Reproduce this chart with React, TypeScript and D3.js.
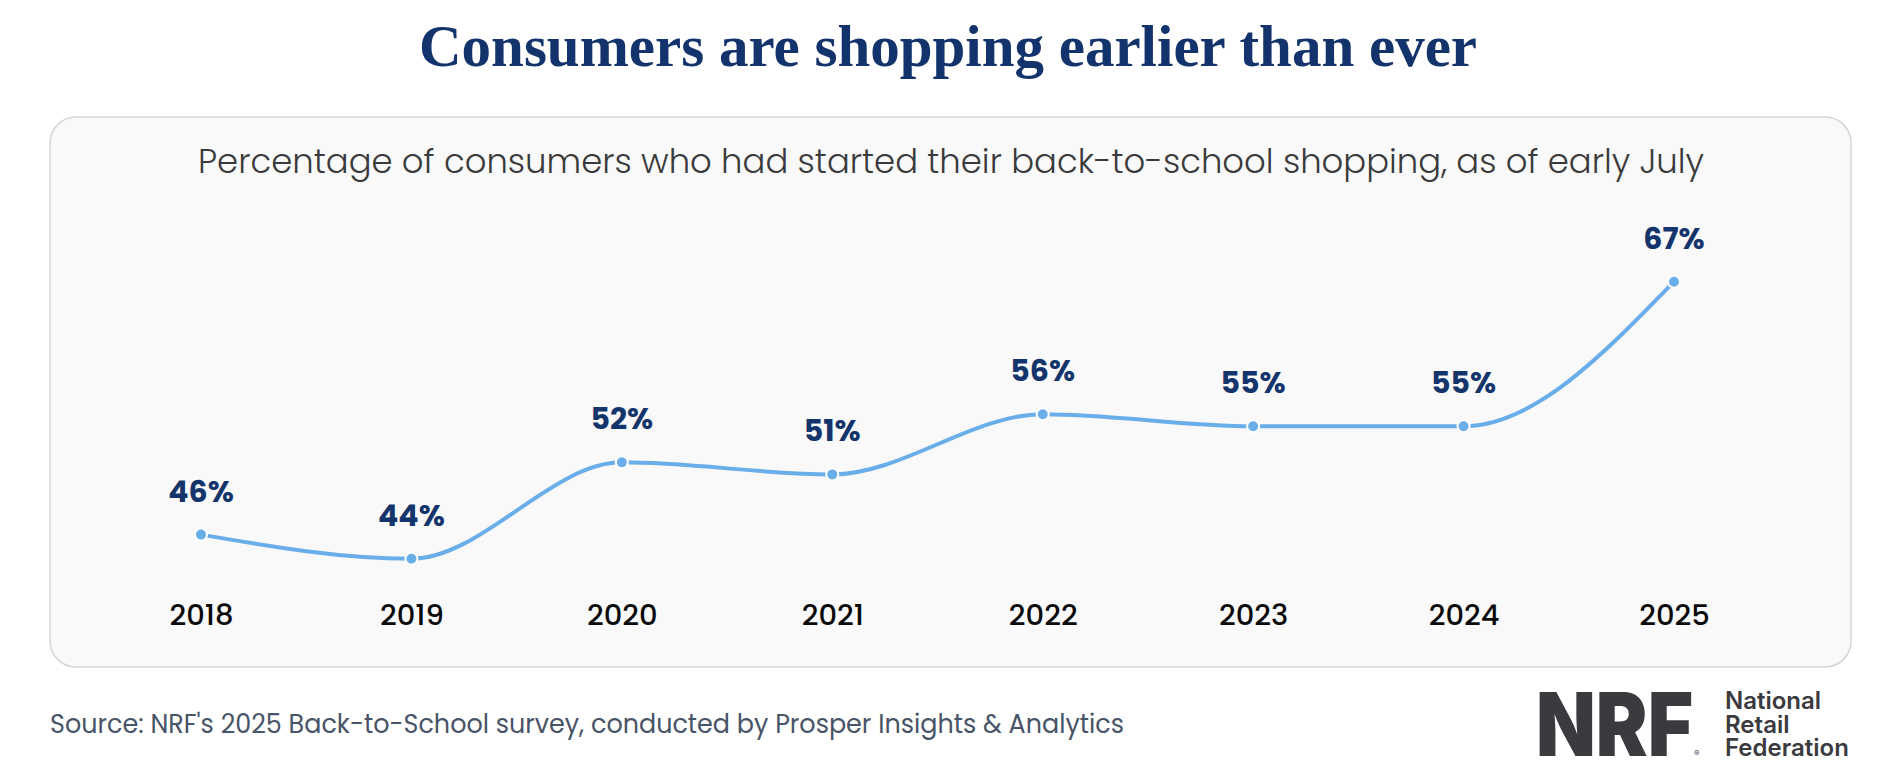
import React, { useEffect, useRef } from "react";
import * as d3 from "d3";

// Survey results: share of shoppers who had started back-to-school buying by early July
const years = ["2018", "2019", "2020", "2021", "2022", "2023", "2024", "2025"];
const startedPct = [46, 44, 52, 51, 56, 55, 55, 67];

const title = "Consumers are shopping earlier than ever";
const subtitle =
  "Percentage of consumers who had started their back-to-school shopping, as of early July";
const source =
  "Source: NRF's 2025 Back-to-School survey, conducted by Prosper Insights & Analytics";
const logoLines = ["National", "Retail", "Federation"];

const WIDTH = 1895;
const HEIGHT = 760;
const SANS = "Poppins, Inter, 'Noto Sans', sans-serif";

const App: React.FC = () => {
  const svgRef = useRef<SVGSVGElement | null>(null);

  useEffect(() => {
    if (!svgRef.current) return;
    const svg = d3.select(svgRef.current);
    svg.selectAll("*").remove();

    // Title
    svg
      .append("text")
      .attr("x", 419)
      .attr("y", 66)
      .attr("textLength", 1058)
      .attr("lengthAdjust", "spacingAndGlyphs")
      .attr("font-family", "'Liberation Serif', 'DejaVu Serif', serif")
      .attr("font-weight", "700")
      .attr("font-size", "60px")
      .attr("fill", "#12336b")
      .text(title);

    // Card behind the chart
    svg
      .append("rect")
      .attr("x", 50)
      .attr("y", 117)
      .attr("width", 1801)
      .attr("height", 550)
      .attr("rx", 26)
      .attr("ry", 26)
      .attr("fill", "#f9f9f9")
      .attr("stroke", "#d3d5d9")
      .attr("stroke-width", 1.5);

    svg
      .append("text")
      .attr("x", 198)
      .attr("y", 173)
      .attr("textLength", 1506)
      .attr("lengthAdjust", "spacingAndGlyphs")
      .attr("font-family", SANS)
      .attr("font-weight", "300")
      .attr("font-size", "34px")
      .attr("fill", "#3a3a3c")
      .text(subtitle);

    const xScale = d3.scalePoint<string>().domain(years).range([201, 1674]);
    const yScale = d3.scaleLinear().domain([44, 67]).range([558.7, 281.7]);

    const data = years.map((y, i) => ({ year: y, value: startedPct[i] }));

    // Smooth line through the yearly values
    const line = d3
      .line<(typeof data)[0]>()
      .x((d) => xScale(d.year) as number)
      .y((d) => yScale(d.value))
      .curve(d3.curveMonotoneX);

    svg
      .append("path")
      .datum(data)
      .attr("fill", "none")
      .attr("stroke", "#6aaee9")
      .attr("stroke-width", 4)
      .attr("stroke-linecap", "round")
      .attr("d", line);

    svg
      .selectAll(".dot")
      .data(data)
      .enter()
      .append("circle")
      .attr("class", "dot")
      .attr("cx", (d) => xScale(d.year) as number)
      .attr("cy", (d) => yScale(d.value))
      .attr("r", 6)
      .attr("fill", "#6aaee9")
      .attr("stroke", "#ffffff")
      .attr("stroke-width", 2);

    // Value labels above each point
    svg
      .selectAll(".value-label")
      .data(data)
      .enter()
      .append("text")
      .attr("class", "value-label")
      .attr("x", (d) => xScale(d.year) as number)
      .attr("y", (d) => yScale(d.value) - 33)
      .attr("text-anchor", "middle")
      .attr("font-family", SANS)
      .attr("font-weight", "700")
      .attr("font-size", "30px")
      .attr("fill", "#14346c")
      .text((d) => `${d.value}%`);

    // Year labels along the bottom
    svg
      .append("g")
      .attr("transform", "translate(0,624.5)")
      .call(d3.axisBottom(xScale).tickSize(0).tickPadding(0))
      .call((g) => g.select(".domain").remove())
      .selectAll("text")
      .attr("dy", 0)
      .attr("font-family", SANS)
      .attr("font-weight", "500")
      .attr("font-size", "29px")
      .attr("fill", "#0a0a0a");

    svg
      .append("text")
      .attr("x", 50)
      .attr("y", 733)
      .attr("textLength", 1074)
      .attr("lengthAdjust", "spacingAndGlyphs")
      .attr("font-family", SANS)
      .attr("font-weight", "400")
      .attr("font-size", "27px")
      .attr("fill", "#485467")
      .text(source);

    // NRF wordmark
    const logo = svg.append("g");
    logo
      .append("text")
      .attr("x", 1536)
      .attr("y", 756)
      .attr("textLength", 157)
      .attr("lengthAdjust", "spacingAndGlyphs")
      .attr("font-family", "Inter, 'Liberation Sans', sans-serif")
      .attr("font-weight", "900")
      .attr("font-size", "88px")
      .attr("fill", "#3b3a3f")
      .text("NRF");
    logo
      .append("text")
      .attr("x", 1694)
      .attr("y", 756)
      .attr("font-family", "Inter, sans-serif")
      .attr("font-size", "8px")
      .attr("fill", "#3b3a3f")
      .text("®");
    logo
      .selectAll(".logo-line")
      .data(logoLines)
      .enter()
      .append("text")
      .attr("class", "logo-line")
      .attr("x", 1725)
      .attr("y", (_, i) => 709 + i * 23.5)
      .attr("font-family", "Inter, sans-serif")
      .attr("font-weight", "600")
      .attr("font-size", "24px")
      .attr("fill", "#3b3a3f")
      .text((d) => d);
  }, []);

  return (
    <svg
      ref={svgRef}
      width={WIDTH}
      height={HEIGHT}
      style={{ position: "absolute", left: 0, top: 0, background: "#ffffff" }}
    />
  );
};

export default App;
